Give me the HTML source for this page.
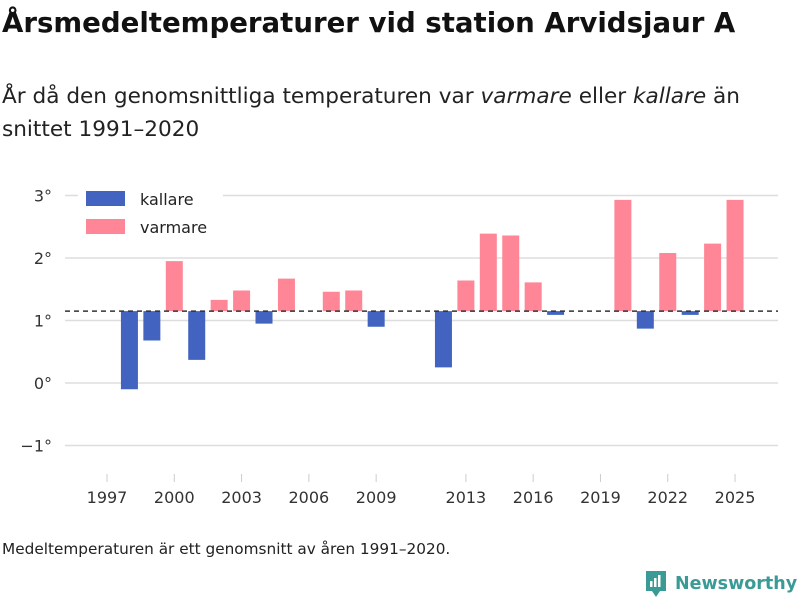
<!DOCTYPE html>
<html><head><meta charset="utf-8"><style>
body{margin:0;width:800px;height:600px;background:#fff;font-family:"DejaVu Sans","Liberation Sans",sans-serif;overflow:hidden;position:relative}
#t{position:absolute;left:2px;top:6px;font-size:27.6px;font-weight:bold;color:#111;margin:0}
#s{position:absolute;left:2px;top:80px;font-size:21.6px;color:#222;line-height:33px;width:795px}
#f{position:absolute;left:2px;top:540px;font-size:15.3px;color:#222}
</style></head><body>
<h1 id="t">Årsmedeltemperaturer vid station Arvidsjaur A</h1>
<div id="s">År då den genomsnittliga temperaturen var <i>varmare</i> eller <i>kallare</i> än snittet 1991–2020</div>
<svg id="c" width="800" height="600" style="position:absolute;left:0;top:0"></svg>
<div id="f">Medeltemperaturen är ett genomsnitt av åren 1991–2020.</div>
<div style="position:absolute;left:644px;top:569px;display:flex;align-items:center">
<svg width="24" height="30" viewBox="0 0 24 30"><path d="M2 2h20v20h-6l-4 6-4-6H2z" fill="#3a9a96"/><rect x="6" y="12" width="2.5" height="6" fill="#fff"/><rect x="10" y="9" width="2.5" height="9" fill="#fff"/><rect x="14" y="6" width="2.5" height="12" fill="#fff"/></svg>
<span style="color:#3a9a96;font-size:17.5px;font-weight:bold;margin-left:7px">Newsworthy</span></div>
<script>
const years=[1998,1999,2000,2001,2002,2003,2004,2005,2007,2008,2009,2012,2013,2014,2015,2016,2017,2020,2021,2022,2023,2024,2025];
const temps=[-0.1,0.68,1.95,0.37,1.33,1.48,0.95,1.67,1.46,1.48,0.9,0.25,1.64,2.39,2.36,1.61,1.09,2.93,0.87,2.08,1.09,2.23,2.93];
const mean=1.15;
const yTicks=[3,2,1,0,-1];
const xTicks=[1997,2000,2003,2006,2009,2013,2016,2019,2022,2025];
const NS="http://www.w3.org/2000/svg",svg=document.getElementById('c');
const x=v=>107+(v-1997)*22.43, y=v=>383-v*62.5;
function mk(tag,a){const e=document.createElementNS(NS,tag);for(const k in a)e.setAttribute(k,a[k]);svg.appendChild(e);return e;}
yTicks.forEach(t=>{
 const l=mk('line',{x1:65,x2:778,y1:y(t),y2:y(t),stroke:'#ddd','stroke-width':1.5});
 
 
 const tx=mk('text',{x:52,y:y(t)+6,'text-anchor':'end','font-size':16,fill:'#333','font-family':'DejaVu Sans, sans-serif'});
 tx.textContent=(t<0?'−'+(-t):t)+'°';
 
 
});
xTicks.forEach(t=>{
 const tx=mk('text',{x:x(t),y:503,'text-anchor':'middle','font-size':16,fill:'#333','font-family':'DejaVu Sans, sans-serif'});
 tx.textContent=t;
 
 
 const tk=mk('line',{x1:x(t),x2:x(t),y1:474,y2:482,stroke:'#ccc'});
 
 
});
years.forEach((yr,i)=>{
 const v=temps[i],a=y(v),b=y(mean);
 const r=mk('rect',{x:x(yr)-8.5,width:17,y:Math.min(a,b),height:Math.abs(a-b),fill:v>mean?'#ff8696':'#4264c0'});
 
 
});
const m=mk('line',{x1:65,x2:778,y1:y(mean),y2:y(mean),stroke:'#333','stroke-width':1.5,'stroke-dasharray':'5,4'});


const lb=mk('rect',{x:78,y:184,width:145,height:58,fill:'#fff'});


[['kallare','#4264c0',191],['varmare','#ff8696',219]].forEach(([n,c,yy])=>{
 const r=mk('rect',{x:86,y:yy,width:39,height:15,fill:c});
 
 
 const tx=mk('text',{x:140,y:yy+14,'font-size':16,fill:'#222','font-family':'DejaVu Sans, sans-serif'});
 tx.textContent=n;
 
 
});
</script>
</body></html>
